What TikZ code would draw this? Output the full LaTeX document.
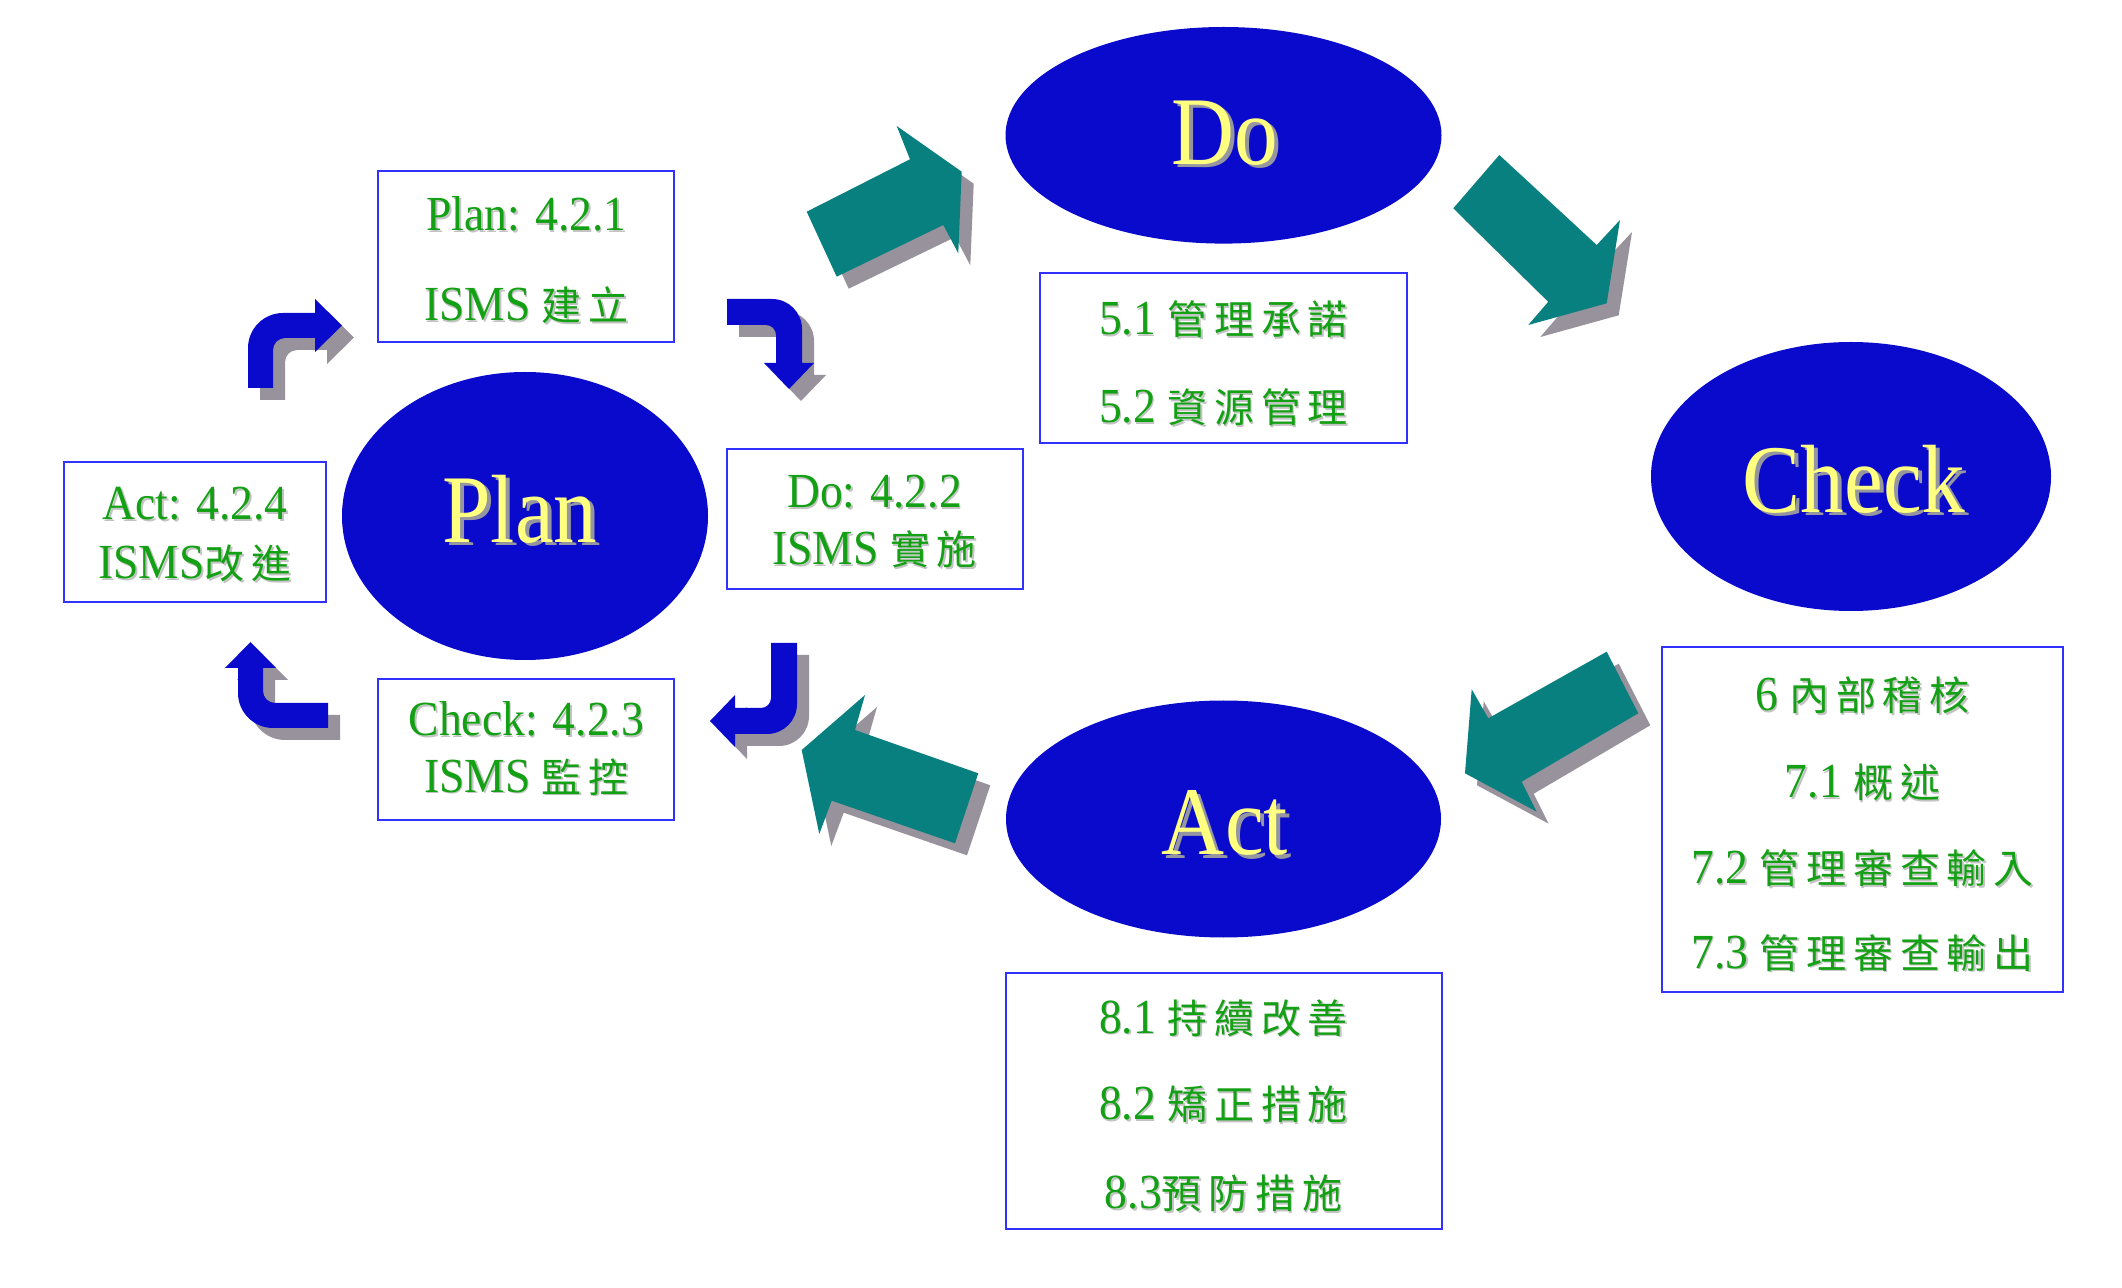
\documentclass[tikz,border=0pt]{standalone}
\usepackage{fontspec}
\setmainfont{Liberation Serif}
\newfontfamily\cjkfont[LetterSpace=17]{Noto Sans CJK TC}
\newfontfamily\bigfont[FakeStretch=0.9]{Liberation Serif}
\newfontfamily\greenfont[FakeStretch=0.93]{Liberation Serif}
\usetikzlibrary{shapes.geometric}

\definecolor{ellblue}{RGB}{10,10,204}
\definecolor{tealarrow}{RGB}{8,128,128}
\definecolor{shadowgray}{RGB}{152,146,156}
\definecolor{boxblue}{RGB}{50,50,255}
\definecolor{txtgreen}{RGB}{20,160,20}
\definecolor{txtshadow}{RGB}{195,195,195}
\definecolor{labyellow}{RGB}{255,255,128}
\definecolor{labshadow}{RGB}{150,150,160}

\newcommand\zh[1]{{\fontsize{20}{24}\selectfont\cjkfont #1}}

\tikzset{
 ell/.style={ellipse, fill=ellblue, inner sep=0pt},
 infobox/.style={rectangle, draw=boxblue, line width=1pt, fill=white, inner sep=0pt},
 gtxt/.style={anchor=base, inner sep=0pt, text=txtgreen, font=\greenfont\fontsize{24.5}{29}\selectfont},
 gshadow/.style={gtxt, text=txtshadow, xshift=0.8pt, yshift=-0.8pt},
 ylab/.style={anchor=base, inner sep=0pt, text=labyellow, font=\bigfont\fontsize{48.5}{58}\selectfont},
 yshadow/.style={ylab, text=labshadow, xshift=2pt, yshift=-1.5pt},
 bigarrow/.style={fill=tealarrow},
 smallarrow/.style={fill=ellblue},
 arrowshadow/.style={fill=shadowgray, shift={(12,12)}},
}

\newcommand\gline[3]{\node[gshadow] (#1-s) at (#2) {#3}; \node[gtxt] (#1) at (#2) {#3};}
\newcommand\ylabel[3]{\node[yshadow] (#1-s) at (#2) {#3}; \node[ylab] (#1) at (#2) {#3};}

% big teal arrows
\newcommand\arrowPD[1]{\fill[#1] (806.7,211.7) -- (910,159.3) -- (896.7,126) -- (961.7,171.7) -- (958.3,253.3) -- (943.3,225) -- (836.7,276.7) -- cycle;}
\newcommand\arrowDC[1]{\fill[#1] (1499.3,155) -- (1596.7,245) -- (1620,220) -- (1606.7,303.3) -- (1528.3,325) -- (1548.3,301.7) -- (1453.3,208.3) -- cycle;}
\newcommand\arrowCA[1]{\fill[#1] (1606.7,651.7) -- (1638.3,713.3) -- (1521.7,781.7) -- (1536.7,811.7) -- (1465,773.3) -- (1471.7,689.3) -- (1488.3,718.3) -- cycle;}
\newcommand\arrowAP[1]{\fill[#1] (978.3,773.3) -- (955,843.3) -- (831.7,800.7) -- (819.3,834) -- (801.7,750) -- (865,695) -- (855,730) -- cycle;}
% small blue curved arrows
\newcommand\arrowTL[1]{\fill[#1] (248,388) -- (248,348) .. controls (248,328.7) and (263.7,313) .. (283,313) -- (315,313) -- (315,299) -- (342,325.5) -- (315,352) -- (315,338) -- (285,338) .. controls (278.4,338) and (273,343.4) .. (273,350) -- (273,388) -- cycle;}
\newcommand\arrowTR[1]{\fill[#1] (727,299) -- (772,299) .. controls (788.6,299) and (802,312.4) .. (802,329) -- (802,363) -- (814,363) -- (789,389) -- (764,363) -- (776,363) -- (776,335) .. controls (776,329.5) and (771.5,325) .. (766,325) -- (727,325) -- cycle;}
\newcommand\arrowBR[1]{\fill[#1] (771,643) -- (797,643) -- (797,704) .. controls (797,720.6) and (783.6,734) .. (767,734) -- (735,734) -- (735,747) -- (710,721) -- (735,695) -- (735,708) -- (761,708) .. controls (766.5,708) and (771,703.5) .. (771,698) -- cycle;}
\newcommand\arrowBL[1]{\fill[#1] (328,728) -- (273,728) .. controls (253.7,728) and (238,712.3) .. (238,693) -- (238,668) -- (225,668) -- (250.5,642) -- (276,668) -- (263,668) -- (263,691) .. controls (263,697.6) and (268.4,703) .. (275,703) -- (328,703) -- cycle;}

\begin{document}
\begin{tikzpicture}[x=0.5pt,y=-0.5pt]
\path[fill=white, use as bounding box] (0,0) rectangle (2122,1288);

% ellipses
\node[ell, minimum width=218pt, minimum height=108.3pt] (do) at (1223.5,135.3) {};
\node[ell, minimum width=200pt, minimum height=134.5pt] (check) at (1851,476.5) {};
\node[ell, minimum width=217.5pt, minimum height=118.5pt] (act) at (1223.5,819) {};
\node[ell, minimum width=183pt, minimum height=144pt] (plan) at (525,516) {};

% boxes
\node[infobox, minimum width=148pt, minimum height=85.3pt] (bplan) at (526.4,256.7) {};
\node[infobox, minimum width=148pt, minimum height=69.9pt] (bdo) at (874.6,518.9) {};
\node[infobox, minimum width=130.6pt, minimum height=70.1pt] (bact) at (194.9,531.7) {};
\node[infobox, minimum width=148pt, minimum height=70.3pt] (bcheck) at (526.4,749.3) {};
\node[infobox, minimum width=183.5pt, minimum height=85pt] (b5) at (1223.5,358) {};
\node[infobox, minimum width=200.5pt, minimum height=172.5pt] (b6) at (1862.5,819.5) {};
\node[infobox, minimum width=218pt, minimum height=128pt] (b8) at (1223.5,1101) {};

% arrows: shadows then fills
\arrowPD{arrowshadow} \arrowPD{bigarrow}
\arrowDC{arrowshadow} \arrowDC{bigarrow}
\arrowCA{arrowshadow} \arrowCA{bigarrow}
\arrowAP{arrowshadow} \arrowAP{bigarrow}
\arrowTL{arrowshadow} \arrowTL{smallarrow}
\arrowTR{arrowshadow} \arrowTR{smallarrow}
\arrowBR{arrowshadow} \arrowBR{smallarrow}
\arrowBL{arrowshadow} \arrowBL{smallarrow}

% ellipse labels
\ylabel{ldo}{1224.5,165}{Do}
\ylabel{lcheck}{1854,513}{Check}
\ylabel{lplan}{520,543}{Plan}
\ylabel{lact}{1225,855}{Act}

% box texts
\gline{tp1}{526.4,231}{Plan: 4.2.1}
\gline{tp2}{526.4,321}{ISMS \zh{建立}}
\gline{td1}{874.6,508}{Do: 4.2.2}
\gline{td2}{874.6,565}{ISMS \zh{實施}}
\gline{ta1}{195,520}{Act: 4.2.4}
\gline{ta2}{195,579}{ISMS\zh{改進}}
\gline{tc1}{526.4,736}{Check: 4.2.3}
\gline{tc2}{526.4,792}{ISMS \zh{監控}}
\gline{t51}{1223.5,335}{5.1 \zh{管理承諾}}
\gline{t52}{1223.5,423}{5.2 \zh{資源管理}}
\gline{t6}{1862.5,711}{6 \zh{內部稽核}}
\gline{t71}{1862.5,798}{7.1 \zh{概述}}
\gline{t72}{1862.5,884}{7.2 \zh{管理審查輸入}}
\gline{t73}{1862.5,968}{7.3 \zh{管理審查輸出}}
\gline{t81}{1223.5,1033}{8.1 \zh{持續改善}}
\gline{t82}{1223.5,1119.5}{8.2 \zh{矯正措施}}
\gline{t83}{1223.5,1208.5}{8.3\zh{預防措施}}
\end{tikzpicture}
\end{document}
